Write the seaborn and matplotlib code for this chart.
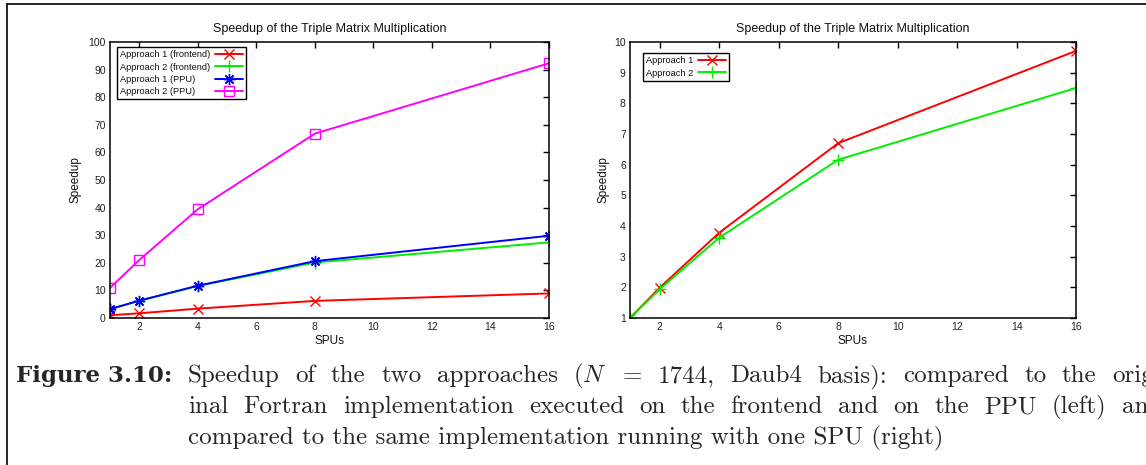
import matplotlib
matplotlib.use("Agg")
import matplotlib.pyplot as plt
import seaborn as sns
from matplotlib.lines import Line2D

# ---------------- data ----------------
spus = [1, 2, 4, 8, 16]
a1_frontend = [1.0, 1.7, 3.4, 6.2, 8.9]
a2_frontend = [3.2, 6.2, 11.6, 20.1, 27.4]
a1_ppu = [3.2, 6.3, 11.7, 20.6, 29.8]
a2_ppu = [10.9, 21.0, 39.4, 66.8, 92.3]
a1_spu = [1.0, 1.99, 3.78, 6.7, 9.71]
a2_spu = [1.0, 1.94, 3.62, 6.16, 8.5]

left_labels = ["Approach 1 (frontend)", "Approach 2 (frontend)",
               "Approach 1 (PPU)", "Approach 2 (PPU)"]
right_labels = ["Approach 1", "Approach 2"]
title = "Speedup of the Triple Matrix Multiplication"
xlabel = "SPUs"
ylabel = "Speedup"
left_yticks = list(range(0, 101, 10))
right_yticks = list(range(1, 11))
xticks = list(range(2, 17, 2))

cap_label = "Figure 3.10:"
cap_line1 = r"Speedup of the two approaches ($N$ = 1744, Daub4 basis): compared to the orig-"
cap_line2 = "inal Fortran implementation executed on the frontend and on the PPU (left) and"
cap_line3 = "compared to the same implementation running with one SPU (right)"

# ---------------- style ----------------
sns.set_theme(style="white")
plt.rcParams["font.family"] = ["Liberation Sans", "DejaVu Sans"]
plt.rcParams["mathtext.fontset"] = "cm"

W, H = 1146, 465
fig = plt.figure(figsize=(W / 100, H / 100), dpi=100)

ax1 = fig.add_axes([110 / W, 1 - 318 / H, 439 / W, 276 / H])
ax2 = fig.add_axes([630 / W, 1 - 318 / H, 446 / W, 276 / H])

RED, GREEN, BLUE, MAG = "#ff0000", "#00ee00", "#0000ff", "#ff00ff"
star = (8, 2, 0)

left_series = [
    (a1_frontend, left_labels[0], RED, "x", 7),
    (a2_frontend, left_labels[1], GREEN, "+", 8),
    (a1_ppu, left_labels[2], BLUE, star, 8),
    (a2_ppu, left_labels[3], MAG, "s", 7),
]
for vals, lab, col, mk, ms in left_series:
    sns.lineplot(x=spus, y=vals, ax=ax1, label=lab, color=col, marker=mk,
                 markersize=ms, markeredgecolor=col, markerfacecolor="none",
                 markeredgewidth=1.0, linewidth=1.4)

right_series = [
    (a1_spu, right_labels[0], RED, "x", 7),
    (a2_spu, right_labels[1], GREEN, "+", 8),
]
for vals, lab, col, mk, ms in right_series:
    sns.lineplot(x=spus, y=vals, ax=ax2, label=lab, color=col, marker=mk,
                 markersize=ms, markeredgecolor=col, markerfacecolor="none",
                 markeredgewidth=1.0, linewidth=1.4)

for ax, yt, ylim in [(ax1, left_yticks, (0, 100)), (ax2, right_yticks, (1, 10))]:
    ax.set_xlim(1, 16)
    ax.set_ylim(*ylim)
    ax.set_xticks(xticks)
    ax.set_yticks(yt)
    ax.tick_params(direction="in", length=4, width=1, top=True, right=True,
                   labelsize=7.5, pad=3, colors="black", labelcolor="#222222")
    for sp in ax.spines.values():
        sp.set_color("black")
        sp.set_linewidth(1.1)
        sp.set_visible(True)
    ax.set_title(title, fontsize=9, pad=7, color="#111111")
    ax.set_xlabel(xlabel, fontsize=8.5, color="#111111")
    ax.set_ylabel(ylabel, fontsize=8.5, color="#111111")
    ax.grid(False)

ax1.xaxis.set_label_coords(0.5, -0.06)
ax2.xaxis.set_label_coords(0.5, -0.06)
ax1.yaxis.set_label_coords(-0.064, 0.5)
ax2.yaxis.set_label_coords(-0.045, 0.5)

leg_kw = dict(loc="upper left", markerfirst=False, frameon=True, fancybox=False,
              edgecolor="black", framealpha=1, fontsize=6.7, handlelength=3.0,
              borderpad=0.35, labelspacing=0.35, handletextpad=0.5,
              borderaxespad=0)
l1 = ax1.legend(bbox_to_anchor=(7 / 439, 1 - 5 / 276), **leg_kw)
l2 = ax2.legend(bbox_to_anchor=(13 / 446, 1 - 11 / 276), **leg_kw)

renderer = fig.canvas.get_renderer()
for lg in (l1, l2):
    lg.get_frame().set_linewidth(1.0)
    for t in lg.get_texts():
        t.set_color("#111111")
    # gnuplot-style: labels left aligned, samples right aligned
    rows = []
    for col in lg._legend_handle_box.get_children():
        rows.extend(col.get_children())
    maxw = max(r.get_bbox(renderer).width for r in rows)
    for r in rows:
        r.mode = "expand"
        r.width = maxw

# page frame lines
fig.add_artist(Line2D([7 / W, 1], [1 - 4 / H, 1 - 4 / H], transform=fig.transFigure,
                      color="black", lw=1.2))
fig.add_artist(Line2D([7 / W, 7 / W], [0, 1 - 4 / H], transform=fig.transFigure,
                      color="black", lw=1.2))

# caption
CAP_FS = 18
fig.text(16 / W, 1 - 382 / H, cap_label, family="DejaVu Serif", weight="bold",
         fontsize=16.5, va="baseline", ha="left")


def justified(line, x0, x1, yb):
    words = line.split(" ")
    texts = [fig.text(0, 1 - yb / H, w, family="cmr10", fontsize=CAP_FS,
                      va="baseline", ha="left") for w in words]
    widths = [t.get_window_extent(renderer).width for t in texts]
    gap = (x1 - x0 - sum(widths)) / (len(words) - 1)
    x = x0
    for t, w in zip(texts, widths):
        t.set_x(x / W)
        x += w + gap


justified(cap_line1, 188, 1162, 382)
justified(cap_line2, 188, 1162, 413)
fig.text(188 / W, 1 - 444 / H, cap_line3, family="cmr10", fontsize=CAP_FS,
         va="baseline", ha="left")

fig.savefig("out.png", dpi=100)
